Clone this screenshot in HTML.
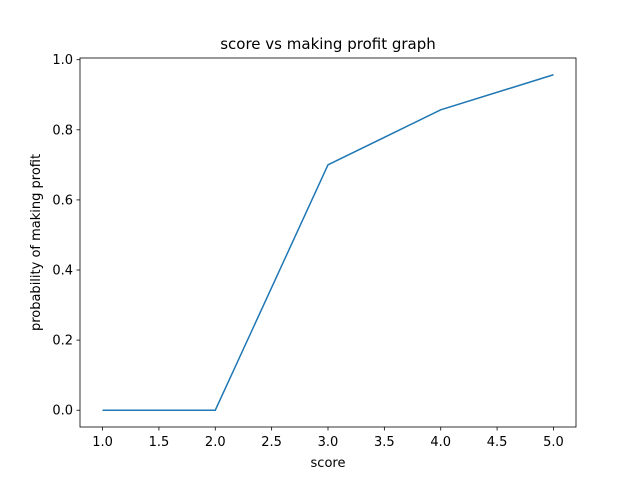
<!DOCTYPE html>
<html><head><meta charset="utf-8"><style>
body{margin:0;background:#fff;}
svg text{font-family:"DejaVu Sans","Liberation Sans",sans-serif;fill:#000;}
</style></head><body>
<svg id="chart" width="640" height="480" viewBox="0 0 640 480" xmlns="http://www.w3.org/2000/svg">
<rect width="640" height="480" fill="#fff"/>
<text x="328" y="49" font-size="15" text-anchor="middle">score vs making profit graph</text>
<g id="xticks"></g>
<g id="yticks"></g>
<path id="line" fill="none" stroke="#1f77b4" stroke-width="1.5"/>
<rect x="80" y="58" width="496" height="369" fill="none" stroke="#000" stroke-width="0.8"/>
<text x="328" y="467" font-size="13" text-anchor="middle">score</text>
<text transform="translate(40,242.5) rotate(-90)" font-size="13" text-anchor="middle">probability of making profit</text>
</svg>
<script>
const scores=[1,2,3,4,5];
const probs=[0,0,0.7,0.857,0.957];
const xTicks=[1.0,1.5,2.0,2.5,3.0,3.5,4.0,4.5,5.0];
const yTicks=[0.0,0.2,0.4,0.6,0.8,1.0];
const X0=80,X1=576,Y0=427,Y1=58;
const xmin=0.8,xmax=5.2,ymin=-0.04785,ymax=1.00485;
const sx=v=>X0+(v-xmin)/(xmax-xmin)*(X1-X0);
const sy=v=>Y0-(v-ymin)/(ymax-ymin)*(Y0-Y1);
const NS="http://www.w3.org/2000/svg";
const xg=document.getElementById('xticks'),yg=document.getElementById('yticks');
xTicks.forEach(t=>{
 const l=document.createElementNS(NS,'line');
 l.setAttribute('x1',sx(t));l.setAttribute('x2',sx(t));l.setAttribute('y1',Y0);l.setAttribute('y2',Y0+3.5);
 l.setAttribute('stroke','#000');l.setAttribute('stroke-width','0.8');
 
 
 xg.appendChild(l);
 const tx=document.createElementNS(NS,'text');
 tx.setAttribute('x',sx(t));tx.setAttribute('y',Y0+19);tx.setAttribute('font-size','13');tx.setAttribute('text-anchor','middle');
 tx.textContent=t.toFixed(1);
 
 
 xg.appendChild(tx);
});
yTicks.forEach(t=>{
 const l=document.createElementNS(NS,'line');
 l.setAttribute('x1',X0-3.5);l.setAttribute('x2',X0);l.setAttribute('y1',sy(t));l.setAttribute('y2',sy(t));
 l.setAttribute('stroke','#000');l.setAttribute('stroke-width','0.8');
 
 
 yg.appendChild(l);
 const tx=document.createElementNS(NS,'text');
 tx.setAttribute('x',X0-7);tx.setAttribute('y',sy(t)+4.5);tx.setAttribute('font-size','13');tx.setAttribute('text-anchor','end');
 tx.textContent=t.toFixed(1);
 
 
 yg.appendChild(tx);
});
document.getElementById('line').setAttribute('d',scores.map((s,i)=>(i?'L':'M')+sx(s)+','+sy(probs[i])).join(' '));
</script>
</body></html>
